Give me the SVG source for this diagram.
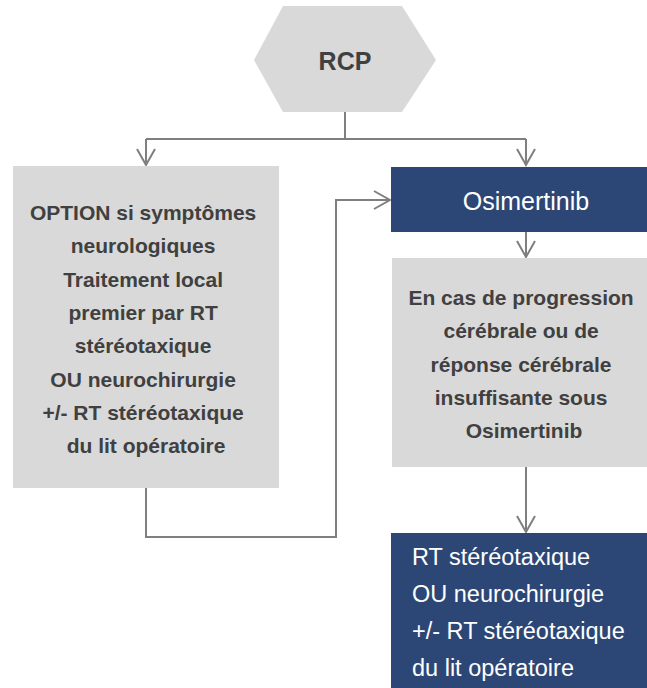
<svg xmlns="http://www.w3.org/2000/svg" width="647" height="688" viewBox="0 0 647 688">
  <style>
    .grey { fill: #d9d9d9; }
    .navy { fill: #2c4775; }
    .dark { font-family: "Liberation Sans", Arial, sans-serif; font-weight: bold; font-size: 21px; fill: #404040; text-anchor: middle; }
    .light { font-family: "Liberation Sans", Arial, sans-serif; fill: #ffffff; }
    .link { fill: none; stroke: #7f7f7f; stroke-width: 2; }
  </style>
  <defs>
    <marker id="chev" viewBox="0 0 20 20" refX="18" refY="10" markerWidth="20" markerHeight="20" markerUnits="userSpaceOnUse" orient="auto">
      <path d="M2,1 L18,10 L2,19" fill="none" stroke="#7f7f7f" stroke-width="2"/>
    </marker>
  </defs>
  <rect width="647" height="688" fill="#ffffff"/>

  <g id="connectors">
    <path class="link" d="M345,112 V139"/>
    <path class="link" d="M146,139 H526"/>
    <path class="link" d="M146,139 V165" marker-end="url(#chev)"/>
    <path class="link" d="M526,139 V165" marker-end="url(#chev)"/>
    <path class="link" d="M526,232 V257" marker-end="url(#chev)"/>
    <path class="link" d="M526,467 V532" marker-end="url(#chev)"/>
    <path class="link" d="M146,488 V537 H336 V200 H390" marker-end="url(#chev)"/>
  </g>

  <g id="rcp">
    <polygon class="grey" points="283,6 402,6 436,60 402,112 283,112 254,60"/>
    <text x="345" y="70" font-family="'Liberation Sans', Arial, sans-serif" font-weight="bold" font-size="25" fill="#404040" text-anchor="middle">RCP</text>
  </g>

  <g id="option-local">
    <rect class="grey" x="13" y="166" width="266" height="322"/>
    <text class="dark">
      <tspan x="146" y="220">OPTION si symptômes</tspan>
      <tspan x="146" y="253.3">neurologiques</tspan>
      <tspan x="146" y="286.7">Traitement local</tspan>
      <tspan x="146" y="320">premier par RT</tspan>
      <tspan x="146" y="353.3">stéréotaxique</tspan>
      <tspan x="146" y="386.7">OU neurochirurgie</tspan>
      <tspan x="146" y="420">+/- RT stéréotaxique</tspan>
      <tspan x="146" y="453.3">du lit opératoire</tspan>
    </text>
  </g>

  <g id="osimertinib">
    <rect class="navy" x="391" y="167" width="256" height="65"/>
    <text class="light" x="526" y="210" font-size="25" text-anchor="middle">Osimertinib</text>
  </g>

  <g id="progression">
    <rect class="grey" x="392" y="258" width="255" height="209"/>
    <text class="dark">
      <tspan x="524" y="305">En cas de progression</tspan>
      <tspan x="524" y="338.3">cérébrale ou de</tspan>
      <tspan x="524" y="371.7">réponse cérébrale</tspan>
      <tspan x="524" y="405">insuffisante sous</tspan>
      <tspan x="524" y="438.3">Osimertinib</tspan>
    </text>
  </g>

  <g id="local-treatment">
    <rect class="navy" x="391" y="533" width="256" height="155"/>
    <text class="light" font-size="23.5">
      <tspan x="412" y="565">RT stéréotaxique</tspan>
      <tspan x="412" y="602">OU neurochirurgie</tspan>
      <tspan x="412" y="639">+/- RT stéréotaxique</tspan>
      <tspan x="412" y="676">du lit opératoire</tspan>
    </text>
  </g>
</svg>
